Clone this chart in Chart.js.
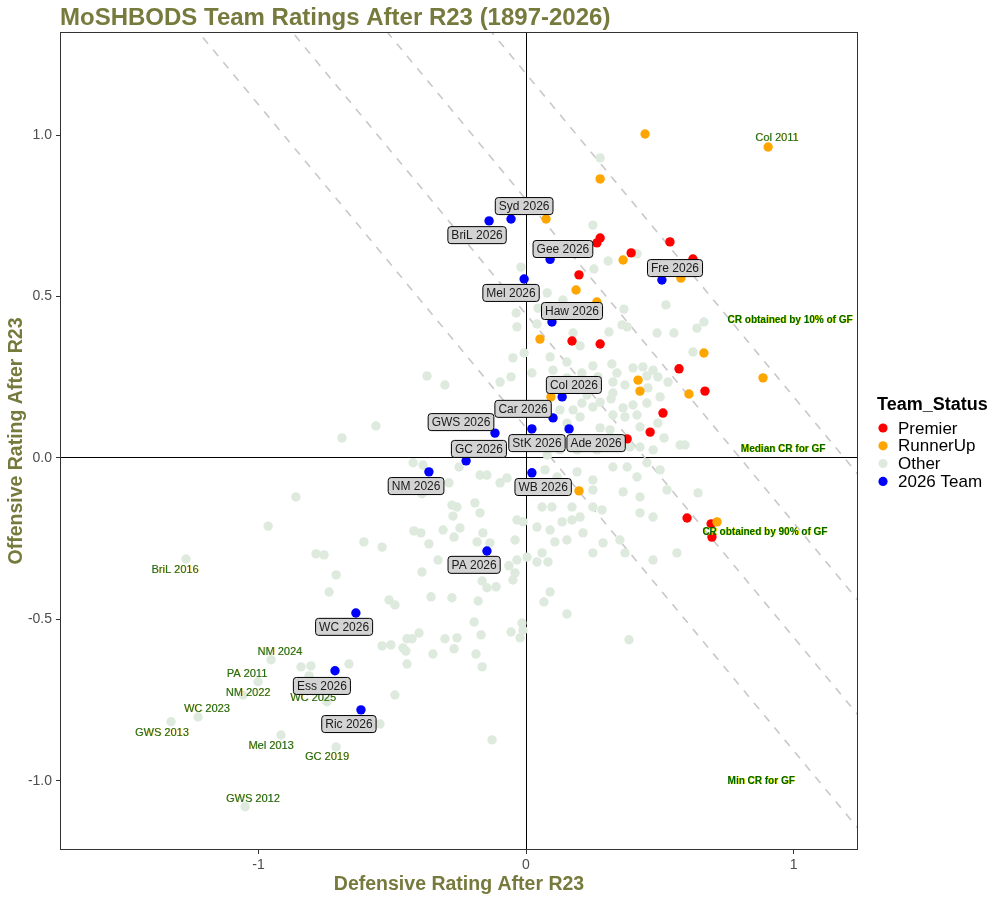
<!DOCTYPE html>
<html>
<head>
<meta charset="utf-8">
<script src="https://cdn.jsdelivr.net/npm/chart.js@4.4.1/dist/chart.umd.min.js"></script>
<style>
  html, body { margin: 0; padding: 0; background: #ffffff; }
  #wrap { width: 1000px; height: 900px; }
</style>
</head>
<body>
<div id="wrap"><canvas id="ratings" width="1000" height="900"></canvas></div>
<script>
// axis ranges and ticks
const X_MIN = -1.742, X_MAX = 1.241, Y_MIN = -1.214, Y_MAX = 1.319;
const xTicks = [-1, 0, 1];
const yTicks = [-1, -0.5, 0, 0.5, 1];

// 2026 teams: defensive (x), offensive (y) and where ggrepel put the label
const teams2026 = ["BriL 2026", "Syd 2026", "Gee 2026", "Mel 2026", "Fre 2026", "Haw 2026", "Col 2026", "Car 2026", "GWS 2026",
  "StK 2026", "Ade 2026", "GC 2026", "NM 2026", "WB 2026", "PA 2026", "WC 2026", "Ess 2026", "Ric 2026"];
const teams2026Def = [-0.138, -0.056, 0.090, -0.007, 0.508, 0.097, 0.135, 0.101, -0.116,
  0.022, 0.161, -0.224, -0.363, 0.022, -0.146, -0.636, -0.714, -0.617];
const teams2026Off = [0.734, 0.740, 0.615, 0.554, 0.551, 0.421, 0.189, 0.124, 0.077,
  0.090, 0.090, -0.009, -0.043, -0.046, -0.288, -0.480, -0.659, -0.780];
const teams2026LabelDef = [-0.183, -0.007, 0.138, -0.056, 0.557, 0.172, 0.179, -0.011, -0.243,
  0.041, 0.262, -0.176, -0.411, 0.064, -0.194, -0.680, -0.763, -0.662];
const teams2026LabelOff = [0.690, 0.780, 0.647, 0.511, 0.588, 0.455, 0.226, 0.152, 0.111,
  0.046, 0.046, 0.028, -0.087, -0.090, -0.331, -0.523, -0.706, -0.824];

// premiers and runners-up (def, off)
const premierRatings = [
  [0.277, 0.681], [0.265, 0.666], [0.538, 0.669], [0.393, 0.635], [0.198, 0.567], [0.624, 0.616],
  [0.172, 0.362], [0.277, 0.353], [0.572, 0.276], [0.669, 0.207], [0.512, 0.139], [0.464, 0.080],
  [0.378, 0.059], [0.602, -0.186], [0.692, -0.204], [0.695, -0.245]
];
const runnerUpRatings = [
  [0.445, 1.003], [0.905, 0.963], [0.277, 0.864], [0.075, 0.740], [0.363, 0.613], [0.579, 0.557],
  [0.187, 0.520], [0.265, 0.483], [0.052, 0.368], [0.665, 0.325], [0.886, 0.248], [0.419, 0.241],
  [0.426, 0.207], [0.609, 0.198], [0.093, 0.189], [0.198, -0.102], [0.714, -0.198]
];

// every other team-season (def, off)
const otherRatings = [
  [0.277, 0.929], [0.250, 0.721], [0.307, 0.610], [0.415, 0.632], [0.254, 0.585], [-0.019, 0.591],
  [0.079, 0.511], [0.138, 0.489], [-0.037, 0.449], [0.045, 0.464], [-0.034, 0.406], [0.041, 0.415],
  [0.366, 0.461], [0.523, 0.474], [0.310, 0.390], [0.176, 0.387], [0.202, 0.347], [0.359, 0.412],
  [0.378, 0.406], [0.490, 0.387], [0.553, 0.387], [0.639, 0.402], [0.665, 0.421], [0.624, 0.328],
  [-0.007, 0.325], [0.090, 0.313], [-0.049, 0.310],
  [-0.370, 0.254], [-0.303, 0.226], [-0.561, 0.099], [-0.688, 0.062], [-0.097, 0.235], [-0.056, 0.251],
  [0.022, 0.263],
  [0.153, 0.297], [0.250, 0.285], [0.321, 0.291], [0.340, 0.263], [0.400, 0.279], [0.437, 0.282],
  [0.475, 0.272], [0.209, 0.263], [0.213, 0.241], [0.269, 0.251], [0.325, 0.235], [0.370, 0.226],
  [0.452, 0.254], [0.493, 0.251], [0.531, 0.235], [0.153, 0.248], [0.101, 0.272], [0.191, 0.211],
  [0.228, 0.195], [0.209, 0.170], [0.250, 0.158], [0.277, 0.173], [0.325, 0.201], [0.363, 0.155],
  [0.400, 0.164], [0.501, 0.189], [0.456, 0.217], [0.318, 0.183], [0.041, 0.164], [0.079, 0.142],
  [0.127, 0.149], [0.176, 0.149], [0.202, 0.127], [0.153, 0.108], [0.277, 0.093], [0.325, 0.133],
  [0.370, 0.127], [0.415, 0.133], [0.493, 0.108], [0.452, 0.170], [0.516, 0.062], [0.576, 0.040],
  [0.594, 0.040], [0.475, 0.025], [0.426, 0.034], [0.079, 0.009], [0.127, 0.025], [0.191, 0.025],
  [0.232, 0.034], [0.265, 0.025], [0.314, 0.087], [0.426, 0.096], [0.389, 0.034],
  [-0.422, -0.015], [-0.385, -0.022], [-0.250, -0.028], [-0.288, -0.077], [-0.389, -0.111], [-0.860, -0.121],
  [-0.277, -0.146], [-0.258, -0.152], [-0.273, -0.180], [-0.964, -0.211], [-0.419, -0.226], [-0.393, -0.232],
  [-0.310, -0.223], [-0.269, -0.245], [-0.606, -0.260], [-0.538, -0.276], [-0.363, -0.266], [-0.785, -0.297],
  [-0.755, -0.300], [-0.329, -0.316], [-0.710, -0.362], [-0.389, -0.353], [-0.736, -0.415], [-0.172, -0.053],
  [-0.146, -0.053], [-0.097, -0.077], [-0.071, -0.062], [-0.191, -0.139], [-0.172, -0.170], [0.060, -0.152],
  [0.097, -0.152], [0.172, -0.152], [0.250, -0.152], [0.284, -0.161], [0.325, -0.028], [0.378, -0.028],
  [0.452, -0.015], [0.415, -0.059], [0.501, -0.037], [0.643, -0.108], [0.527, -0.099], [0.363, -0.105],
  [0.426, -0.121], [0.250, -0.099], [0.191, -0.043], [0.250, -0.068], [0.116, -0.059], [0.071, -0.037],
  [0.426, -0.170], [0.475, -0.183], [-0.034, -0.192], [-0.011, -0.198], [0.041, -0.214], [0.090, -0.223],
  [0.135, -0.198], [0.172, -0.192], [0.202, -0.183], [0.213, -0.232], [0.108, -0.260], [0.153, -0.254],
  [-0.247, -0.217], [-0.161, -0.232], [-0.135, -0.263], [-0.041, -0.254], [-0.183, -0.260], [-0.034, -0.316],
  [0.004, -0.307], [0.041, -0.322], [0.060, -0.294], [-0.064, -0.334], [-0.041, -0.356], [-0.049, -0.378],
  [-0.164, -0.381], [-0.146, -0.402], [-0.112, -0.399], [0.082, -0.322], [0.090, -0.415], [0.067, -0.446],
  [0.153, -0.483], [-0.512, -0.440], [-0.490, -0.455], [-0.355, -0.430], [-0.277, -0.433], [-0.179, -0.443],
  [-0.194, -0.508], [-0.015, -0.511], [-0.011, -0.533], [-0.056, -0.539], [-0.022, -0.557], [-0.400, -0.542],
  [-0.445, -0.560], [-0.426, -0.560], [-0.303, -0.560], [-0.258, -0.557], [-0.168, -0.548], [-0.538, -0.582],
  [-0.505, -0.579], [-0.460, -0.588], [-0.449, -0.598], [-0.348, -0.607], [-0.269, -0.591], [-0.187, -0.607],
  [-0.445, -0.638], [-0.164, -0.647], [0.385, -0.563], [-0.490, -0.734], [-0.546, -0.824], [-0.127, -0.873],
  [0.351, -0.254], [0.250, -0.294], [0.288, -0.263], [0.370, -0.294], [0.475, -0.316], [0.564, -0.294],
  [-0.662, -0.638], [-0.841, -0.647], [-0.804, -0.644], [-0.811, -0.675],
  // the labelled historic seasons
  [-1.271, -0.313], [-0.953, -0.625], [-1.002, -0.693], [-1.058, -0.734], [-1.226, -0.802],
  [-0.744, -0.755], [-1.327, -0.817], [-0.916, -0.858], [-0.710, -0.895], [-1.050, -1.080]
];

// labelled historic seasons (text position)
const historicNames = ["Col 2011", "BriL 2016", "NM 2024", "PA 2011", "NM 2022", "WC 2023", "WC 2025",
  "GWS 2013", "Mel 2013", "GC 2019", "GWS 2012"];
const historicLabelDef = [0.938, -1.312, -0.920, -1.043, -1.039, -1.193, -0.796, -1.361, -0.953, -0.744, -1.021];
const historicLabelOff = [0.991, -0.347, -0.601, -0.669, -0.728, -0.777, -0.743, -0.851, -0.892, -0.926, -1.056];

// combined rating (def + off) reference lines
const crNames = ["CR obtained by 10% of GF", "Median CR for GF", "CR obtained by 90% of GF", "Min CR for GF"];
const crLevels = [1.19, 0.80, 0.445, 0.094];
const crLabelDef = [0.987, 0.961, 0.893, 0.879];
const crLabelOff = [0.427, 0.028, -0.229, -1.000];

const statusNames = ["Premier", "RunnerUp", "Other", "2026 Team"];
const statusColors = ["#ff0000", "#ffa500", "#ddeadd", "#0000ff"];

const FONT = "'Liberation Sans', Arial, Helvetica, sans-serif";
const OLIVE = "#767a3c";

const toXY = (pairs) => pairs.map(([x, y]) => ({ x, y }));

function pointSet(label, data, color, order) {
  return {
    label,
    data,
    order,
    pointRadius: 4.7,
    pointHoverRadius: 4.7,
    pointBorderWidth: 0,
    pointBackgroundColor: color,
    backgroundColor: color,
    borderColor: color,
  };
}

const datasets = [
  pointSet("2026 Team", teams2026Def.map((d, i) => ({ x: d, y: teams2026Off[i] })), statusColors[3], 0),
  pointSet("RunnerUp", toXY(runnerUpRatings), statusColors[1], 1),
  pointSet("Premier", toXY(premierRatings), statusColors[0], 2),
  pointSet("Other", toXY(otherRatings), statusColors[2], 3),
];

crLevels.forEach((c, i) => {
  datasets.push({
    label: crNames[i],
    data: [{ x: X_MIN, y: c - X_MIN }, { x: X_MAX, y: c - X_MAX }],
    showLine: true,
    pointRadius: 0,
    borderColor: "#c8c8c8",
    borderWidth: 1.6,
    borderDash: [8, 8],
    order: 10,
  });
});

const annotatePlugin = {
  id: "annotate",
  afterDatasetsDraw(chart) {
    const { ctx } = chart;
    const xs = chart.scales.x, ys = chart.scales.y;
    ctx.save();
    ctx.textAlign = "center";
    ctx.textBaseline = "middle";

    // CR line labels
    ctx.font = "bold 10px " + FONT;
    crNames.forEach((t, i) => {
      const px = xs.getPixelForValue(crLabelDef[i]);
      const py = ys.getPixelForValue(crLabelOff[i]);
      ctx.fillStyle = "#e8e800";
      ctx.fillText(t, px + 0.8, py + 0.6);
      ctx.fillStyle = "#006400";
      ctx.fillText(t, px, py);
    });

    // historic labels
    ctx.font = "11px " + FONT;
    historicNames.forEach((t, i) => {
      const px = xs.getPixelForValue(historicLabelDef[i]);
      const py = ys.getPixelForValue(historicLabelOff[i]);
      ctx.fillStyle = "rgba(210,160,0,0.7)";
      ctx.fillText(t, px + 0.6, py + 0.4);
      ctx.fillStyle = "#1c6a1c";
      ctx.fillText(t, px, py);
    });

    // 2026 labels in boxes
    ctx.font = "12px " + FONT;
    teams2026.forEach((t, i) => {
      const px = xs.getPixelForValue(teams2026LabelDef[i]);
      const py = ys.getPixelForValue(teams2026LabelOff[i]);
      const w = ctx.measureText(t).width + 7;
      const h = 17;
      ctx.beginPath();
      if (ctx.roundRect) ctx.roundRect(px - w / 2, py - h / 2, w, h, 3);
      else ctx.rect(px - w / 2, py - h / 2, w, h);
      ctx.fillStyle = "#d3d3d3";
      ctx.fill();
      ctx.lineWidth = 1;
      ctx.strokeStyle = "#000000";
      ctx.stroke();
      ctx.fillStyle = "#1a1a1a";
      ctx.fillText(t, px, py + 0.5);
    });
    ctx.restore();
  },
  afterDraw(chart) {
    const { ctx, chartArea: a } = chart;
    ctx.save();
    // panel border
    ctx.strokeStyle = "#333333";
    ctx.lineWidth = 1;
    ctx.strokeRect(a.left + 0.5, a.top + 0.5, a.right - a.left - 1, a.bottom - a.top - 1);

    // title
    ctx.font = "bold 24px " + FONT;
    ctx.fillStyle = OLIVE;
    ctx.textAlign = "left";
    ctx.textBaseline = "middle";
    ctx.fillText("MoSHBODS Team Ratings After R23 (1897-2026)", a.left, 18);

    // legend
    const lx = a.right + 19;
    ctx.fillStyle = "#000000";
    ctx.font = "bold 18px " + FONT;
    ctx.fillText("Team_Status", lx, 405);
    ctx.font = "17px " + FONT;
    statusNames.forEach((name, i) => {
      const cy = 428 + i * 17.8;
      ctx.beginPath();
      ctx.arc(lx + 6, cy, 4.6, 0, Math.PI * 2);
      ctx.fillStyle = statusColors[i];
      ctx.fill();
      ctx.fillStyle = "#000000";
      ctx.fillText(name, lx + 21, cy + 1);
    });
    ctx.restore();
  },
};

new Chart(document.getElementById("ratings"), {
  type: "scatter",
  data: { datasets },
  plugins: [annotatePlugin],
  options: {
    responsive: false,
    animation: false,
    layout: { padding: { top: 32, right: 142, bottom: 0, left: 0 } },
    plugins: {
      legend: { display: false },
      tooltip: { enabled: false },
      title: { display: false },
    },
    scales: {
      x: {
        type: "linear",
        min: X_MIN,
        max: X_MAX,
        afterBuildTicks: (s) => { s.ticks = xTicks.map((v) => ({ value: v })); },
        afterFit: (s) => { s.height = 50; },
        border: { display: false },
        grid: {
          color: (c) => (c.tick && c.tick.value === 0 ? "#000000" : "rgba(0,0,0,0)"),
          tickColor: "#333333",
          tickLength: 4,
          lineWidth: 1,
        },
        ticks: {
          color: "#4d4d4d",
          font: { size: 14, family: FONT },
          padding: 3,
          callback: (v) => String(v),
        },
        title: {
          display: true,
          text: "Defensive Rating After R23",
          color: OLIVE,
          font: { size: 19.5, weight: "bold", family: FONT },
          padding: { top: 0, bottom: 4 },
        },
      },
      y: {
        type: "linear",
        min: Y_MIN,
        max: Y_MAX,
        afterBuildTicks: (s) => { s.ticks = yTicks.map((v) => ({ value: v })); },
        afterFit: (s) => { s.width = 60; },
        border: { display: false },
        grid: {
          color: (c) => (c.tick && c.tick.value === 0 ? "#000000" : "rgba(0,0,0,0)"),
          tickColor: "#333333",
          tickLength: 4,
          lineWidth: 1,
        },
        ticks: {
          color: "#4d4d4d",
          font: { size: 14, family: FONT },
          padding: 4,
          callback: (v) => v.toFixed(1),
        },
        title: {
          display: true,
          text: "Offensive Rating After R23",
          color: OLIVE,
          font: { size: 19.5, weight: "bold", family: FONT },
          padding: { top: 5, bottom: 0 },
        },
      },
    },
  },
});
</script>
</body>
</html>
